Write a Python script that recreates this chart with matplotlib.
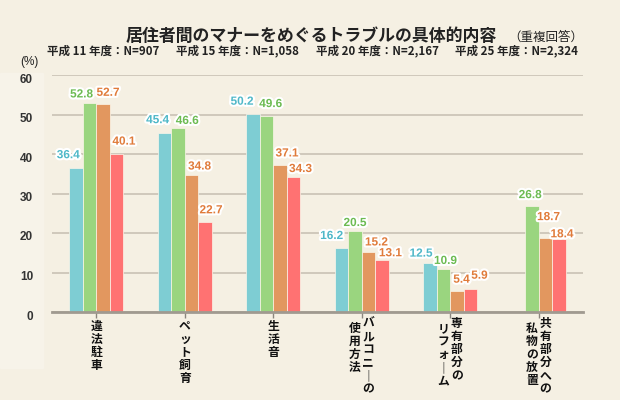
import numpy as np
import matplotlib
matplotlib.use("Agg")
from matplotlib import pyplot as plt
from matplotlib import patheffects as pe
from matplotlib.patches import Rectangle

plt.rcParams['font.family'] = ['Noto Sans CJK JP', 'DejaVu Sans']

# categories, drawn as vertical text (right column first)
categories = [["違法駐車"], ["ペット飼育"], ["生活音"],
              ["バルコニーの", "使用方法"], ["専有部分の", "リフォーム"],
              ["共有部分への", "私物の放置"]]
series = ["平成 11 年度：N=907", "平成 15 年度：N=1,058",
          "平成 20 年度：N=2,167", "平成 25 年度：N=2,324"]
h11 = [36.4, 45.4, 50.2, 16.2, 12.5, np.nan]
h15 = [52.8, 46.6, 49.6, 20.5, 10.9, 26.8]
h20 = [52.7, 34.8, 37.1, 15.2, 5.4, 18.7]
h25 = [40.1, 22.7, 34.3, 13.1, 5.9, 18.4]
yticks = [0, 10, 20, 30, 40, 50, 60]

values = [h11, h15, h20, h25]
bar_colors = ['#7ecdd3', '#9ad57f', '#e2975f', '#ff7272']
label_colors = ['#4fb8c8', '#6cbb52', '#e07b3a', '#e07b3a']
num_font = ['Liberation Sans', 'DejaVu Sans']

# hand placement of the value labels (pixel nudges, like the original)
nudge = [
    [(-8, 13), (-7, 12.5), (-11, 12), (-10, 12), (-9, 9), (0, 0)],
    [(-8, 9), (9, 7), (4, 12), (0, 8), (2, 8), (-2, 11)],
    [(5, 11), (8, 8), (7, 12), (8, 9.5), (4.5, 11), (3, 21)],
    [(7.5, 12), (6, 12), (7, 7.5), (8.5, 7), (9, 13), (3, 5)],
]

bg = '#f5f0e3'
fig = plt.figure(figsize=(6.2, 4), dpi=100, facecolor=bg)
# faint lighter strip behind the y labels
fig.patches.append(Rectangle((0, 1 - 368 / 400), 43 / 620, (368 - 73) / 400,
                             transform=fig.transFigure, color='#f7f3e9',
                             zorder=-1))

ax = fig.add_axes([52 / 620, 1 - 312 / 400, 531 / 620, (312 - 75) / 400])
ax.set_facecolor('none')
ax.set_xlim(-0.5, 5.5)
ax.set_ylim(0, 60)
for s in ax.spines.values():
    s.set_visible(False)

ax.set_yticks(yticks)
ax.set_yticklabels([])
ax.tick_params(axis='y', length=0)
ax.yaxis.grid(True, color='#c9c2b5', lw=1.2)
ax.set_axisbelow(True)
ax.axhline(0, color='#a09a90', lw=2, zorder=4, clip_on=False)

x = np.arange(len(categories))
w = 0.152
for i, vals in enumerate(values):
    pos = x + (i - 1.5) * w
    ax.bar(pos, vals, w, color=bar_colors[i], edgecolor='#fbf6ea',
           linewidth=0.5, zorder=3)
    for j, v in enumerate(vals):
        if np.isnan(v):
            continue
        dx, dy = nudge[i][j]
        t = ax.annotate(f"{v:.1f}", (pos[j], v), xytext=(dx, dy),
                        textcoords='offset pixels', ha='center', va='center',
                        fontsize=8.5, fontweight='bold', color=label_colors[i],
                        family=num_font, zorder=5)
        t.set_path_effects([pe.withStroke(linewidth=3, foreground='white')])

# small ticks under the baseline
ax.set_xticks(x)
ax.set_xticklabels([])
ax.tick_params(axis='x', length=4, width=1, color='#8a857d', direction='out')

# y labels sit a little under their gridlines
for v in yticks:
    ax.annotate(str(v), (0, v), xycoords=('axes fraction', 'data'),
                xytext=(-19, -4.5), textcoords='offset pixels',
                ha='right', va='center', fontsize=8.5, fontweight='bold',
                color='#333333', family=num_font, annotation_clip=False)

# vertical category text
for j, cols in enumerate(categories):
    n = len(cols)
    for k, col in enumerate(cols):
        if n == 1:
            dx, dy = 0, -8
        else:
            dx, dy = (6.5, -5) if k == 0 else (-7, -10)
        txt = "\n".join(col.replace("ー", "｜"))
        ax.annotate(txt, (x[j], 0), xytext=(dx, dy),
                    textcoords='offset pixels', ha='center', va='top',
                    fontsize=8.5, fontweight='bold', color='#111111',
                    linespacing=1.0, annotation_clip=False)

fig.text(126 / 620, 1 - 36 / 400, "居住者間のマナーをめぐるトラブルの具体的内容",
         fontsize=12.2, fontweight='bold', color='#222222', va='center')
fig.text(508 / 620, 1 - 37 / 400, "（重複回答）", fontsize=9,
         color='#222222', va='center')

for xs, s in zip([47, 176, 316, 455], series):
    fig.text(xs / 620, 1 - 51 / 400, s, fontsize=8.3, fontweight='bold',
             color='#222222', va='center')
fig.text(29 / 620, 1 - 62 / 400, "(%)", fontsize=8.5, color='#222222',
         ha='center', va='center', family=num_font)

fig.savefig("out.png", dpi=100, facecolor=bg)
